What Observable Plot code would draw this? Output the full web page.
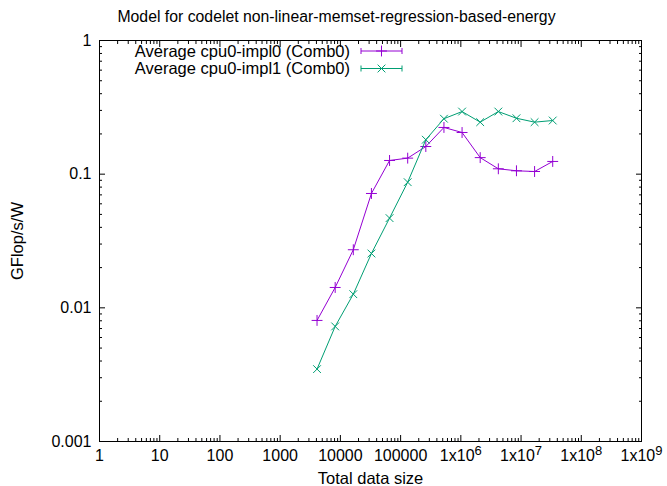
<!DOCTYPE html>
<html><head><meta charset="utf-8">
<script src="https://cdn.jsdelivr.net/npm/d3@7"></script>
<script src="https://cdn.jsdelivr.net/npm/@observablehq/plot@0.6"></script>
<style>
body{margin:0;background:#fff;width:667px;height:486px;overflow:hidden;font-family:"Liberation Sans",Arial,sans-serif;}
#title{height:30px;box-sizing:border-box;padding-top:4px;line-height:26px;text-align:center;font-size:15.8px;color:#000;white-space:nowrap;padding-left:6px;}
</style></head><body>
<div id="title">Model for codelet non-linear-memset-regression-based-energy</div>
<div id="chart"></div>
<script>
const sizes = [4096, 8192, 16384, 32768, 65536, 131072, 262144, 524288, 1048576, 2097152, 4194304, 8388608, 16777216, 33554432];
const impl0 = [0.00805, 0.0142, 0.0272, 0.0717, 0.1266, 0.1318, 0.161, 0.2236, 0.205, 0.133, 0.1097, 0.106, 0.1047, 0.1245];
const impl1 = [0.00348, 0.00726, 0.01265, 0.0255, 0.0469, 0.0871, 0.181, 0.260, 0.294, 0.245, 0.294, 0.262, 0.245, 0.252];
const seriesNames = ["Average cpu0-impl0 (Comb0)", "Average cpu0-impl1 (Comb0)"];
const seriesColors = ["#9400d3", "#009e73"];
const seriesSymbols = ["plus", "times"];
const xTicks = [1, 10, 100, 1000, 10000, 100000, 1e6, 1e7, 1e8, 1e9];
const xTickLabels = ["1", "10", "100", "1000", "10000", "100000", "1x10^6", "1x10^7", "1x10^8", "1x10^9"];
const yTicks = [0.001, 0.01, 0.1, 1];
const yTickLabels = ["0.001", "0.01", "0.1", "1"];
const xLabel = "Total data size";
const yLabel = "GFlop/s/W";

const minorOf = majors => majors.slice(0, -1).flatMap(m => [2,3,4,5,6,7,8,9].map(k => +(k * m).toPrecision(6)));
const xMinor = minorOf(xTicks);
const yMinor = minorOf(yTicks);

const data0 = sizes.map((s, i) => ({x: s, y: impl0[i], series: seriesNames[0]}));
const data1 = sizes.map((s, i) => ({x: s, y: impl1[i], series: seriesNames[1]}));

const tickStyle = {stroke: "#000", fill: "none", label: null};
const plot = Plot.plot({
  width: 667,
  height: 456,
  marginTop: 10,
  marginBottom: 45,
  marginLeft: 99,
  marginRight: 26,
  style: {fontFamily: "'Liberation Sans', Arial, sans-serif", fontSize: "16px", background: "#fff", color: "#000"},
  x: {type: "log", domain: [1, 1e9]},
  y: {type: "log", domain: [0.001, 1]},
  color: {domain: seriesNames, range: seriesColors},
  marks: [
    Plot.axisX(xTicks, {anchor: "bottom", tickSize: -6, ...tickStyle}),
    Plot.axisX(xMinor, {anchor: "bottom", tickSize: -3, ...tickStyle}),
    Plot.axisX(xTicks, {anchor: "top", tickSize: -6, ...tickStyle}),
    Plot.axisX(xMinor, {anchor: "top", tickSize: -3, ...tickStyle}),
    Plot.axisY(yTicks, {anchor: "left", tickSize: -6, ...tickStyle}),
    Plot.axisY(yMinor, {anchor: "left", tickSize: -3, ...tickStyle}),
    Plot.axisY(yTicks, {anchor: "right", tickSize: -6, ...tickStyle}),
    Plot.axisY(yMinor, {anchor: "right", tickSize: -3, ...tickStyle}),
    Plot.axisX(xTicks, {anchor: "bottom", tickSize: 0, tickPadding: 8, fill: "#000", label: null,
      tickFormat: d => xTickLabels[xTicks.indexOf(d)]}),
    Plot.axisY(yTicks, {anchor: "left", tickSize: 0, tickPadding: 8, fill: "#000", label: null,
      tickFormat: d => yTickLabels[yTicks.indexOf(d)]}),
    Plot.frame({stroke: "#000"}),
    Plot.text([xLabel], {frameAnchor: "bottom", dy: 37, lineAnchor: "middle", textAnchor: "middle", fill: "#000", fontSize: 16.5}),
    Plot.text([yLabel], {frameAnchor: "left", dx: -82, dy: 0, rotate: -90, textAnchor: "middle", lineAnchor: "middle", fill: "#000", fontSize: 16.5}),
    Plot.line(data0, {x: "x", y: "y", stroke: "series", strokeWidth: 1}),
    Plot.dot(data0, {x: "x", y: "y", stroke: "series", symbol: seriesSymbols[0], r: 3.6, strokeWidth: 1}),
    Plot.line(data1, {x: "x", y: "y", stroke: "series", strokeWidth: 1}),
    Plot.dot(data1, {x: "x", y: "y", stroke: "series", symbol: seriesSymbols[1], r: 3.6, strokeWidth: 1})
  ]
});
document.getElementById("chart").appendChild(plot);

// superscripts for exponent tick labels
d3.select(plot).selectAll('g[aria-label="x-axis tick label"] text').each(function() {
  const t = d3.select(this);
  const s = t.text();
  if (s.includes("^")) {
    const [base, exp] = s.split("^");
    t.text(null);
    t.append("tspan").text(base);
    t.append("tspan").attr("dy", "-6").attr("font-size", "13px").text(exp);
  }
});

// legend (top-left inside the frame, gnuplot style)
const svg = d3.select(plot);
const leg = svg.append("g").attr("font-family", "'Liberation Sans', Arial, sans-serif").attr("font-size", "16.5px");
seriesNames.forEach((name, i) => {
  const y = 21 + i * 17.5;
  leg.append("text").attr("x", 350).attr("y", y).attr("dy", "0.35em").attr("text-anchor", "end").attr("fill", "#000").text(name);
  const g = leg.append("g").attr("stroke", seriesColors[i]).attr("stroke-width", 1).attr("fill", "none");
  g.append("line").attr("x1", 361).attr("x2", 402).attr("y1", y).attr("y2", y);
  g.append("line").attr("x1", 361).attr("x2", 361).attr("y1", y - 3).attr("y2", y + 3);
  g.append("line").attr("x1", 402).attr("x2", 402).attr("y1", y - 3).attr("y2", y + 3);
  const sym = seriesSymbols[i] === "plus" ? d3.symbolPlus : d3.symbolTimes;
  g.append("path").attr("transform", `translate(381.5,${y})`).attr("d", d3.symbol(sym, 3.6 * 3.6 * Math.PI)());
});
</script>
</body></html>
